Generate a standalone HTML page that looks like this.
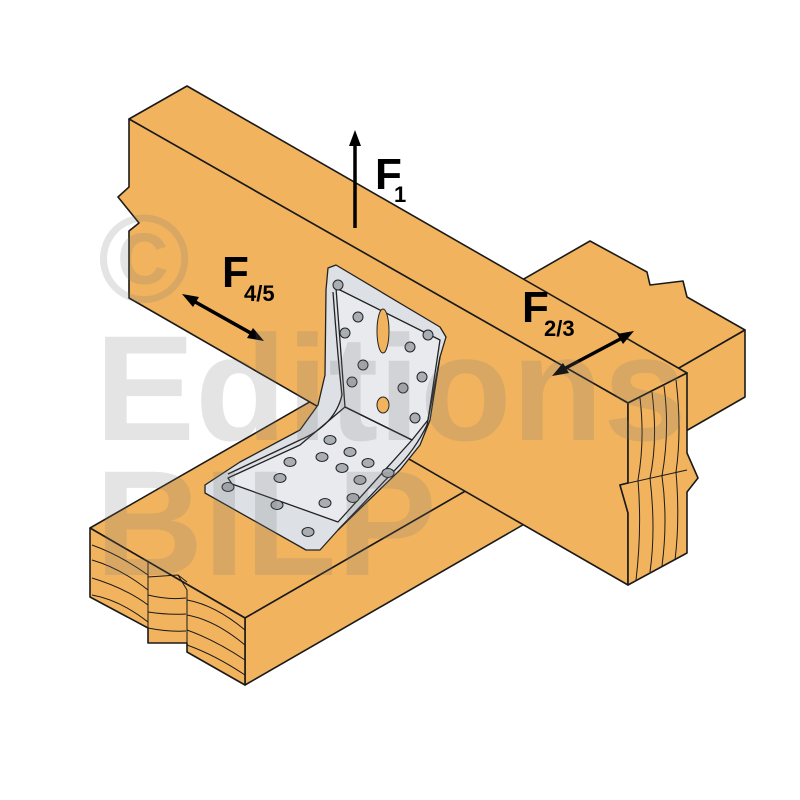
<!DOCTYPE html>
<html><head><meta charset="utf-8"><style>
html,body{margin:0;padding:0;background:#fff;}
svg{display:block}
</style></head><body>
<svg width="800" height="800" viewBox="0 0 800 800" xmlns="http://www.w3.org/2000/svg">
<rect width="800" height="800" fill="#fff"/>
<g stroke="#1a1a1a" stroke-width="1.6" stroke-linejoin="round" fill="#F1B35E">
  <!-- lower beam -->
  <polygon points="90,528 590,241 647,272 650,285 683,281 687,297 745,330 245,618"/>
  <polygon points="245,618 745,330 745,397 245,685"/>
  <polygon points="90,528 245,618 245,685 187,652 187,643 148,643 148,628 90,597"/>
  <g fill="none" stroke-width="1">
    <path d="M148,562 L148,628"/><path d="M148,577 L178,575 L187,590 L187,652"/><path d="M178,575 L187,582"/>
    <path d="M92,545 Q120,555 148,575"/><path d="M92,560 Q120,568 148,590"/><path d="M92,578 Q125,588 148,605"/><path d="M92,595 Q120,600 148,622"/>
    <path d="M148,595 Q168,600 186,598"/><path d="M148,612 Q168,615 186,614"/><path d="M148,628 Q168,632 186,631"/>
    <path d="M187,600 Q215,605 245,630"/><path d="M187,615 Q215,620 245,645"/><path d="M187,630 Q215,640 245,660"/><path d="M187,645 Q215,655 245,675"/>
  </g>
  <!-- upper beam -->
  <polygon points="129,119 187,86 687,373 628,403"/>
  <polygon points="129,119 628,403 628,483 620,485 628,513 628,585 129,298 129,231 139,223 118,197 129,187"/>
  <polygon points="628,403 687,373 687,453 698,478 687,492 687,553 628,585 628,513 620,485 628,483"/>
  <g fill="none" stroke-width="1">
    <path d="M640,398 Q645,440 638,480 Q642,530 636,580"/>
    <path d="M652,392 Q658,440 650,478 Q656,530 650,572"/>
    <path d="M664,386 Q670,430 662,476 Q668,520 662,566"/>
    <path d="M676,380 Q682,430 676,472 Q680,520 675,560"/>
    <path d="M620,485 L687,470"/>
  </g>
</g>
<!-- bracket -->
<g stroke="#222" stroke-width="1.3" stroke-linejoin="round">
  <polygon fill="#DDE0E4" points="328,268 336,265 440,327 446,337 440,357 430,420 420,445 400,470 338,530 320,550 306,550 205,493 205,485 240,462 300,430 318,405 325,375 326,290"/>
  <polygon fill="#E8EAEE" points="336,288 440,340 428,420 412,440 345,407"/>
  <polygon fill="#E8EAEE" points="228,478 300,445 345,407 412,440 338,522 232,484"/>
  <path fill="none" d="M333,292 Q338,360 342,395 Q335,425 300,440 L228,474"/>
  <path fill="none" d="M440,357 L427,425 Q415,450 395,470 L338,530"/>
  <path fill="none" d="M345,407 L412,440"/>
</g>
<g fill="#A9AEB5" stroke="#222" stroke-width="1">
  <ellipse cx="383" cy="331" rx="6" ry="22" fill="#F1B35E"/>
  <ellipse cx="383" cy="405" rx="6" ry="8" fill="#F1B35E"/>
  <g>
    <circle cx="338" cy="285" r="5"/><circle cx="358" cy="317" r="5"/><circle cx="345" cy="333" r="5"/><circle cx="363" cy="365" r="5"/><circle cx="352" cy="382" r="5"/>
    <circle cx="428" cy="335" r="5"/><circle cx="410" cy="347" r="5"/><circle cx="422" cy="377" r="5"/><circle cx="403" cy="388" r="5"/><circle cx="415" cy="418" r="5"/>
    <ellipse cx="228" cy="487" rx="6" ry="4.5"/><ellipse cx="280" cy="478" rx="6" ry="4.5"/><ellipse cx="277" cy="505" rx="6" ry="4.5"/><ellipse cx="290" cy="462" rx="6" ry="4.5"/>
    <ellipse cx="322" cy="457" rx="6" ry="4.5"/><ellipse cx="325" cy="503" rx="6" ry="4.5"/><ellipse cx="330" cy="440" rx="6" ry="4.5"/><ellipse cx="342" cy="468" rx="6" ry="4.5"/>
    <ellipse cx="350" cy="452" rx="6" ry="4.5"/><ellipse cx="360" cy="480" rx="6" ry="4.5"/><ellipse cx="353" cy="498" rx="6" ry="4.5"/><ellipse cx="368" cy="463" rx="6" ry="4.5"/>
    <ellipse cx="308" cy="532" rx="6" ry="4.5"/><ellipse cx="388" cy="473" rx="6" ry="4.5"/>
  </g>
</g>
<!-- arrows -->
<g stroke="#000" stroke-width="3.5" fill="#000">
  <line x1="355" y1="228" x2="355" y2="142"/>
  <line x1="190" y1="299" x2="256" y2="336"/>
  <line x1="560" y1="371" x2="626" y2="336"/>
</g>
<g fill="#000">
  <polygon points="355,130 349,146 361,146"/>
  <polygon points="182,294 199,297 193,307"/>
  <polygon points="264,341 247,338 253,328"/>
  <polygon points="552,376 563,363 569,373"/>
  <polygon points="634,331 623,344 617,334"/>
</g>
<g font-family="Liberation Sans, sans-serif" font-weight="bold" fill="#000">
  <text x="375" y="189" font-size="44">F</text><text x="394" y="202" font-size="22">1</text>
  <text x="222" y="287" font-size="44">F</text><text x="244" y="301" font-size="22">4/5</text>
  <text x="522" y="322" font-size="44">F</text><text x="544" y="336" font-size="22">2/3</text>
</g>
<!-- watermark -->
<g font-family="Liberation Sans, sans-serif" font-weight="bold" fill="rgb(120,120,120)" fill-opacity="0.2">
  <text x="98" y="302" font-size="125">©</text>
  <text x="95" y="440" font-size="150">Editions</text>
  <text x="95" y="575" font-size="150">BILP</text>
</g>
</svg>
</body></html>
